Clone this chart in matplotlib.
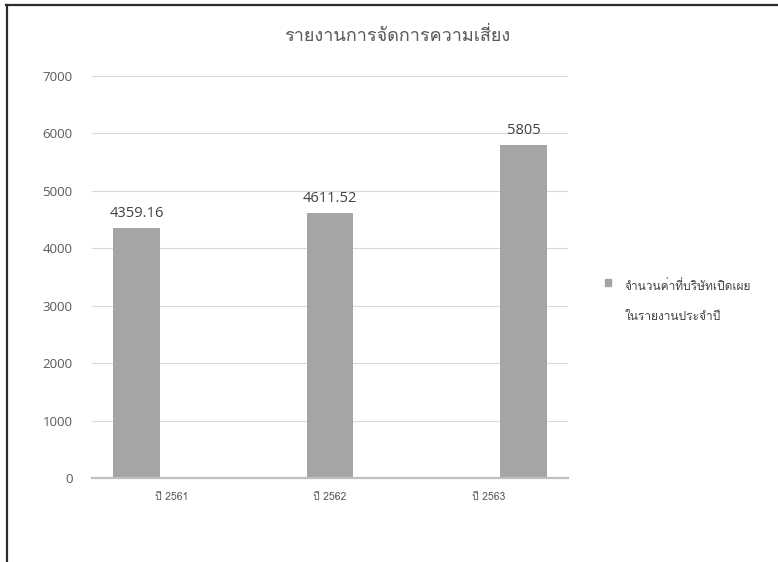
import matplotlib
matplotlib.use("Agg")
import matplotlib.pyplot as plt
from matplotlib.patches import Patch, Rectangle
from matplotlib.legend_handler import HandlerPatch
from matplotlib.lines import Line2D

# DATA
title = "รายงานการจัดการความเสี่ยง"
categories = ["ปี 2561", "ปี 2562", "ปี 2563"]
values = [4359.16, 4611.52, 5805]
value_labels = ["4359.16", "4611.52", "5805"]
legend_label = "จำนวนค่าที่บริษัทเปิดเผย\nในรายงานประจำปี"
y_ticks = [0, 1000, 2000, 3000, 4000, 5000, 6000, 7000]

thai = ["Loma", "DejaVu Sans"]
num = ["Open Sans", "DejaVu Sans"]
bar_color = "#a5a5a5"
text_gray = "#595959"

W, H = 778, 562
fig = plt.figure(figsize=(W / 100, H / 100), dpi=100)
fig.patch.set_facecolor("white")

# axes box in pixels: x 92..568, y 76..478
ax = fig.add_axes([92 / W, 1 - 478 / H, (568 - 92) / W, (478 - 76) / H])

# each year sits in its own slot of the cluster (like separate Excel series)
slot = 0.22
width = 0.295
for i, v in enumerate(values):
    x = i + (i - 1) * slot
    ax.bar(x, v, width=width, color=bar_color, edgecolor="none", zorder=2)
    ax.annotate(value_labels[i], (x, v), xytext=(0, 5), textcoords="offset points",
                ha="center", va="bottom", fontsize=10.5, color="#404040",
                family=num)

ax.set_xlim(-0.5, 2.5)
ax.set_ylim(0, 7000)
ax.set_yticks(y_ticks)
ax.set_yticklabels([str(t) for t in y_ticks], family=num, fontsize=9.5, color=text_gray)
ax.set_xticks(range(len(categories)))
ax.set_xticklabels(categories, family=thai, fontsize=7.5, color=text_gray)
ax.tick_params(axis="both", length=0)
ax.tick_params(axis="y", pad=14)
ax.tick_params(axis="x", pad=10)

ax.grid(axis="y", color="#d9d9d9", linewidth=0.8, zorder=0)
ax.set_axisbelow(True)
for s in ["top", "right", "left"]:
    ax.spines[s].set_visible(False)
ax.spines["bottom"].set_color("#bfbfbf")
ax.spines["bottom"].set_linewidth(1.6)
ax.spines["bottom"].set_zorder(3)

fig.text(397 / W, 1 - 36 / H, title, ha="center", va="center",
         family=thai, fontsize=13, color=text_gray)


# LEGEND - marker sits next to the first line, not the middle
def top_square(legend, orig_handle, xdescent, ydescent, width, height, fontsize):
    return Rectangle((-xdescent, -ydescent + 13), width, height)


leg = fig.legend(handles=[Patch(color=bar_color)], labels=[legend_label],
                 loc="upper left", bbox_to_anchor=(594 / W, 1 - 268 / H),
                 frameon=False, handlelength=0.55, handleheight=0.55,
                 handletextpad=1.1, prop={"family": thai, "size": 8.6},
                 handler_map={Patch: HandlerPatch(patch_func=top_square)})
for t in leg.get_texts():
    t.set_color("#404040")
    t.set_linespacing(3.2)

# frame lines around the picture
fig.add_artist(Line2D([6 / W, 1], [1 - 5 / H, 1 - 5 / H], color="#2b2b2b", lw=1.6))
fig.add_artist(Line2D([7 / W, 7 / W], [0, 1 - 5 / H], color="#2b2b2b", lw=1.6))

fig.savefig("out.png", dpi=100)
